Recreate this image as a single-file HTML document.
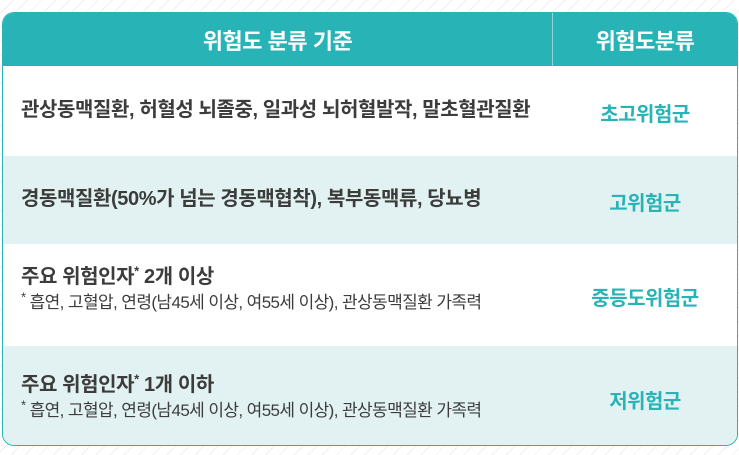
<!DOCTYPE html>
<html><head><meta charset="utf-8"><style>
html,body{margin:0;padding:0;width:739px;height:455px;overflow:hidden;background:#fff;
background-image:repeating-linear-gradient(135deg,#fff 0 9px,#eef0f2 9px 10px);}
*{box-sizing:border-box;font-family:"Liberation Sans","Noto Sans CJK KR",sans-serif;}
#tbl{position:absolute;left:2px;top:12px;width:736px;height:434px;border:1.5px solid #2ab3b5;border-radius:12px;overflow:hidden;background:#fff;}
.hdr{position:absolute;top:0;height:53px;background:#28b3b6;color:#fff;font-weight:bold;font-size:22px;display:flex;align-items:center;justify-content:center;letter-spacing:-0.5px}
.row{position:absolute;left:0;width:100%;}
.c1{position:absolute;left:18px;color:#3c3c3c;font-weight:bold;font-size:20px;letter-spacing:-0.4px;line-height:24px}
.c2{position:absolute;left:550px;width:184px;text-align:center;color:#28b3b6;font-weight:bold;font-size:20px;letter-spacing:-0.5px}
.sub{font-size:17px;font-weight:normal;color:#3c3c3c;letter-spacing:-0.6px;margin-top:4px;line-height:20px}
sup{font-size:13px;line-height:0}
</style></head><body>
<div id="tbl">
<div class="hdr" style="left:0;width:549px">위험도 분류 기준</div>
<div style="position:absolute;left:549px;top:0;width:1px;height:53px;background:#8fd6d7"></div>
<div class="hdr" style="left:550px;width:184px">위험도분류</div>

<div class="row" style="top:53px;height:90px;background:#fff">
<div class="c1" style="top:32px">관상동맥질환, 허혈성 뇌졸중, 일과성 뇌허혈발작, 말초혈관질환</div>
<div class="c2" style="top:32px">초고위험군</div></div>

<div class="row" style="top:143px;height:88px;background:#e2f2f2">
<div class="c1" style="top:31px">경동맥질환(50%가 넘는 경동맥협착), 복부동맥류, 당뇨병</div>
<div class="c2" style="top:31px">고위험군</div></div>

<div class="row" style="top:231px;height:102px;background:#fff">
<div class="c1" style="top:21px">주요 위험인자<sup>*</sup> 2개 이상<div class="sub"><sup>*</sup> 흡연, 고혈압, 연령(남45세 이상, 여55세 이상), 관상동맥질환 가족력</div></div>
<div class="c2" style="top:38px">중등도위험군</div></div>

<div class="row" style="top:333px;height:101px;background:#e2f2f2">
<div class="c1" style="top:27px">주요 위험인자<sup>*</sup> 1개 이하<div class="sub"><sup>*</sup> 흡연, 고혈압, 연령(남45세 이상, 여55세 이상), 관상동맥질환 가족력</div></div>
<div class="c2" style="top:39px">저위험군</div></div>
</div>
</body></html>
